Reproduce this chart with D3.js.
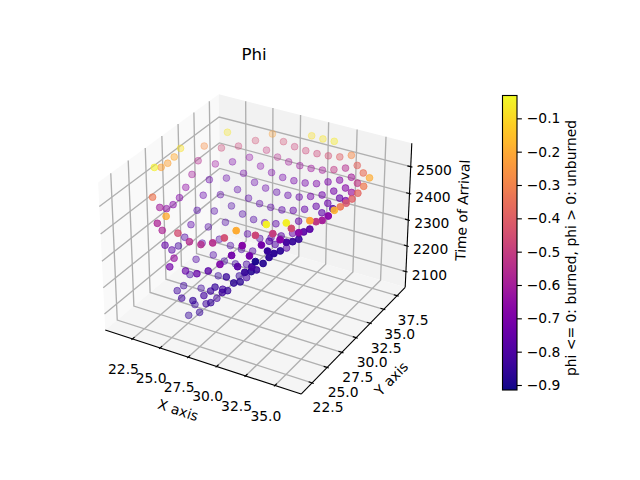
<!DOCTYPE html>
<html><head><meta charset="utf-8"><style>
html,body{margin:0;background:#fff}
svg{display:block}
text{font-family:"DejaVu Sans";fill:#000}
</style>
<script src="https://cdnjs.cloudflare.com/ajax/libs/d3/7.8.5/d3.min.js"></script>
</head><body><svg id="chart" width="640" height="480"></svg>
<script>
// Time-of-arrival samples, one entry per scatter point.
const xVals=[20.9,20.9,20.9,20.9,20.9,21.9,21.9,
21.9,21.9,21.9,21.9,21.9,21.9,21.9,
22.9,22.9,22.9,22.9,22.9,22.9,22.9,
22.9,22.9,22.9,22.9,23.9,23.9,23.9,
23.9,23.9,23.9,23.9,23.9,23.9,23.9,
23.9,24.9,24.9,24.9,24.9,24.9,24.9,
24.9,24.9,24.9,24.9,24.9,25.9,25.9,
25.9,25.9,25.9,25.9,25.9,25.9,25.9,
26.9,26.9,26.9,26.9,26.9,26.9,26.9,
26.9,26.9,27.9,27.9,27.9,27.9,27.9,
27.9,28.0,27.9,27.9,27.8,28.9,28.9,
28.9,28.9,28.9,28.9,28.9,29.0,29.9,
29.9,29.9,29.9,29.9,29.9,29.9,29.9,
29.9,30.9,30.9,30.9,30.9,30.9,30.9,
30.9,30.9,30.9,31.9,31.9,31.9,31.9,
31.9,32.9,32.9,32.9,32.9,32.9,32.9,
33.9,33.9,33.9,33.9,34.9,34.9,34.9,
34.9,34.8,35.9,35.9,35.9,35.9,35.9,
35.9,35.9,35.9,35.9,35.9,35.9,34.9,
34.4,34.5,34.0,34.4,34.0,34.0,34.5,
34.0,33.4,33.4,32.5,33.5,33.5,33.5,
33.1,33.0,32.0,32.6,32.5,31.5,31.6,
32.2,31.6,31.0,31.4,30.5,29.9,30.9,
29.5,28.9,27.3,26.3,25.3,24.3,23.5,
23.3,24.3,24.5,25.3,26.9,27.9,28.9,
30.1,30.1,29.0,29.0,28.0,29.1,27.9,
27.5,26.9,26.9,27.5,26.5,24.9,26.5,
25.9];
const yVals=[31.3,30.3,29.3,28.3,27.3,
33.3,32.3,31.3,30.3,29.3,28.3,27.3,26.3,25.3,
35.3,34.3,33.3,32.3,31.3,30.3,29.3,28.3,27.3,26.3,25.3,
35.3,34.3,33.3,32.3,31.3,30.3,29.3,28.3,27.3,26.3,25.3,
36.3,35.3,34.3,33.3,32.3,31.3,30.3,29.3,27.3,26.3,25.3,
37.3,36.3,35.3,34.3,33.3,32.3,30.3,29.3,28.3,
37.3,36.3,35.3,34.3,33.3,32.3,31.3,30.3,29.3,
37.3,36.3,35.3,34.3,33.3,32.3,31.3,30.3,29.3,28.3,
38.3,37.3,36.3,35.3,34.3,33.3,32.3,31.3,
38.3,37.3,36.3,35.3,34.3,33.3,31.3,30.3,29.3,
38.3,37.3,36.3,35.3,34.3,33.3,32.3,31.3,30.3,
37.3,36.3,35.3,34.3,33.3,
37.3,36.3,35.3,34.3,33.3,32.3,
36.3,35.3,34.3,33.3,
35.3,34.3,33.3,32.3,30.3,
34.3,33.3,32.3,31.3,30.3,29.3,28.3,
27.3,26.3,25.3,24.3,26.3,26.3,25.3,26.3,
24.3,25.3,24.3,23.3,23.3,23.3,22.3,22.3,
24.3,23.3,22.3,23.3,22.3,22.3,23.3,22.3,
24.3,23.3,22.3,22.3,22.3,22.3,22.3,22.3,
22.3,22.3,22.3,23.3,23.3,23.3,23.3,23.3,
24.3,24.3,23.3,24.3,23.3,23.3,24.3,23.3,
24.3,27.3,24.3,25.3,23.3,24.3,24.3,24.3,
26.3,24.3,25.3,24.3,23.3,25.3];
const arrival=[2527,2513,2508,2511,2529,2511,2474,
2441,2411,2391,2384,2388,2412,2469,
2538,2497,2455,2414,2374,2336,2301,
2273,2260,2265,2303,2497,2456,2413,
2369,2326,2285,2243,2201,2163,2141,
2143,2511,2466,2424,2381,2338,2295,
2250,2210,2123,2081,2061,2529,2486,
2444,2401,2360,2319,2238,2199,2163,
2511,2471,2431,2391,2351,2310,2275,
2236,2201,2503,2464,2424,2387,2349,
2310,2271,2242,2212,2187,2537,2499,
2461,2423,2387,2351,2318,2286,2536,
2499,2462,2426,2392,2361,2304,2292,
2324,2538,2502,2467,2435,2406,2377,
2352,2326,2291,2509,2480,2453,2423,
2400,2526,2497,2471,2449,2423,2407,
2518,2493,2472,2454,2520,2501,2486,
2475,2483,2532,2520,2514,2512,2516,
2522,2529,2528,2532,2547,2570,2489,
2473,2491,2442,2525,2453,2471,2565,
2500,2514,2566,2517,2434,2445,2474,
2426,2489,2438,2398,2424,2340,2356,
2401,2374,2387,2467,2421,2476,2514,
2376,2446,2400,2398,2417,2466,2431,
2383,2292,2283,2257,2288,2311,2281,
2295,2278,2217,2231,2202,2247,2230,
2210,2185,2132,2166,2127,2149,2182,
2086];
const phi=[-.08,-.2,-.22,-.22,-.05,
-.27,-.55,-.6,-.65,-.68,-.68,-.65,-.6,-.33,
-.07,-.47,-.62,-.75,-.75,-.8,-.78,-.8,-.82,-.78,-.75,
-.47,-.7,-.75,-.78,-.8,-.8,-.8,-.8,-.83,-.83,-.83,
-.45,-.65,-.72,-.78,-.8,-.8,-.8,-.8,-.83,-.85,-.85,
-.22,-.5,-.68,-.75,-.78,-.8,-.8,-.83,-.85,
-.45,-.55,-.7,-.75,-.78,-.8,-.78,-.82,-.83,
-.48,-.6,-.72,-.78,-.78,-.78,-.8,-.8,-.82,-.85,
-.08,-.47,-.62,-.72,-.76,-.78,-.78,-.78,
-.07,-.47,-.62,-.72,-.75,-.76,-.78,-.8,-.8,
-.06,-.45,-.6,-.7,-.72,-.75,-.75,-.75,-.78,
-.4,-.52,-.7,-.73,-.75,
-.28,-.55,-.68,-.72,-.74,-.77,
-.38,-.6,-.67,-.75,
-.35,-.52,-.62,-.7,-.8,
-.2,-.32,-.38,-.4,-.42,-.33,-.18,
-.68,-.6,-.52,-.22,-.78,-.78,-.68,-.85,
-.45,-.85,-.82,-.05,-.68,-.5,-.05,-.47,
-.87,-.87,-.85,-.87,-.72,-.72,-.88,-.9,
-.85,-.88,-.82,-.85,-.78,-.68,-.72,-.45,
-.2,-.7,-.55,-.55,-.55,-.45,-.2,-.58,
-.58,-.63,-.72,-.75,-.75,-.78,-.85,-.87,
-.87,-.82,-.85,-.83,-.83,-.85,-.83,-.82,
-.82,-.85,-.83,-.83,-.85,-.85];
const xTicks=[22.5,25,27.5,30,32.5,35];
const yTicks=[22.5,25,27.5,30,32.5,35,37.5];
const zTicks=[2100,2200,2300,2400,2500];
const phiTicks=[-0.9,-0.8,-0.7,-0.6,-0.5,-0.4,-0.3,-0.2,-0.1];
const xLim=[20,37.2],yLim=[20.73,39.06],zLim=[2038,2586],phiLim=[-0.915,-0.0315];

const svg=d3.select("#chart");

// Perspective camera: elevation 30, azimuth -60, box aspect 4:4:3.
const rad=Math.PI/180,elev=30*rad,azim=-60*rad,camDist=10;
const boxNorm=1.8294640721620434*25/24/Math.hypot(4,4,3);
const sx=d3.scaleLinear(xLim,[-2*boxNorm,2*boxNorm]);
const sy=d3.scaleLinear(yLim,[-2*boxNorm,2*boxNorm]);
const sz=d3.scaleLinear(zLim,[-1.5*boxNorm,1.5*boxNorm]);
const w=[Math.cos(elev)*Math.cos(azim),Math.cos(elev)*Math.sin(azim),Math.sin(elev)];
const un=Math.hypot(w[0],w[1]);
const u=[-w[1]/un,w[0]/un,0];
const v=[w[1]*u[2]-w[2]*u[1],w[2]*u[0]-w[0]*u[2],w[0]*u[1]-w[1]*u[0]];
const scale=1885,cx=258,cy=237;
function project(x,y,z){
  const p=[sx(x),sy(y),sz(z)];
  const dot=q=>q[0]*p[0]+q[1]*p[1]+q[2]*p[2];
  const depth=camDist-dot(w);
  return {x:cx+scale*dot(u)/depth,y:cy-scale*dot(v)/depth,depth};
}
const lineOf=pts=>d3.line().x(p=>p.x).y(p=>p.y)(pts.map(p=>project(...p)));
const [x0,x1]=xLim,[y0,y1]=yLim,[z0,z1]=zLim;

// Back walls and floor.
const panes=[
  {fill:"#f9f9f9",c:[[x0,y0,z0],[x0,y1,z0],[x0,y1,z1],[x0,y0,z1]]},
  {fill:"#f2f2f2",c:[[x0,y1,z0],[x1,y1,z0],[x1,y1,z1],[x0,y1,z1]]},
  {fill:"#f5f5f5",c:[[x0,y0,z0],[x1,y0,z0],[x1,y1,z0],[x0,y1,z0]]}
];
svg.append("g").selectAll("path").data(panes).join("path")
  .attr("d",d=>lineOf(d.c)+"Z").attr("fill",d=>d.fill);

// Grid lines that fold across the floor and one wall.
const grid=svg.append("g").attr("fill","none").attr("stroke","#b0b0b0").attr("stroke-width",1.35);
const gridLines=[
  ...xTicks.map(t=>[[t,y0,z0],[t,y1,z0],[t,y1,z1]]),
  ...yTicks.map(t=>[[x1,t,z0],[x0,t,z0],[x0,t,z1]]),
  ...zTicks.map(t=>[[x0,y0,t],[x0,y1,t],[x1,y1,t]])
];
grid.selectAll("path").data(gridLines).join("path").attr("d",lineOf);

// Axis edges and tick marks.
const axes=svg.append("g").attr("fill","none").attr("stroke","#000").attr("stroke-width",1.11);
const edges=[[[x0,y0,z0],[x1,y0,z0]],[[x1,y0,z0],[x1,y1,z0]],[[x1,y1,z0],[x1,y1,z1]]];
const dY=(y1-y0)/12,dX=(x1-x0)/12;
const tickMarks=[
  ...xTicks.map(t=>[[t,y0+.2*dY,z0],[t,y0-.1*dY,z0]]),
  ...yTicks.map(t=>[[x1-.2*dX,t,z0],[x1+.1*dX,t,z0]]),
  ...zTicks.map(t=>[[x1-.2*dX,y1,t],[x1+.1*dX,y1,t]])
];
axes.selectAll("path").data([...edges,...tickMarks]).join("path").attr("d",lineOf);

// Tick labels, offset from each axis on screen.
const fmt1=d3.format(".1f");
function tickLabels(ticks,at,dx,dy,f){
  svg.append("g").attr("font-size","13.89px").attr("text-anchor","middle")
    .selectAll("text").data(ticks).join("text")
    .attr("x",t=>at(t).x+dx).attr("y",t=>at(t).y+dy).attr("dy","0.36em")
    .text(f);
}
tickLabels(xTicks,t=>project(t,y0,z0),-9,30,fmt1);
tickLabels(yTicks,t=>project(x1,t,z0),16,24.5,fmt1);
tickLabels(zTicks,t=>project(x1,y1,t),23.5,3,d3.format("d"));

// Axis titles follow the on-screen slant of their axes.
function axisTitle(text,a,b,px,py){
  const A=project(...a),B=project(...b);
  const ang=Math.atan2(B.y-A.y,B.x-A.x)/rad;
  const m={x:(A.x+B.x)/2+px,y:(A.y+B.y)/2+py};
  svg.append("text").attr("font-size","13.89px").attr("text-anchor","middle").attr("dy","0.36em")
    .attr("transform",`translate(${m.x},${m.y}) rotate(${ang})`).text(text);
}
axisTitle("X axis",[x0,y0,z0],[x1,y0,z0],-25,48);
axisTitle("Y axis",[x1,y0,z0],[x1,y1,z0],38,38);
axisTitle("Time of Arrival",[x1,y1,z0],[x1,y1,z1],54,-5);

svg.append("text").attr("x",254).attr("y",54).attr("dy","0.36em").attr("text-anchor","middle")
  .attr("font-size","16.67px").text("Phi");

// Scatter, painted far to near; nearer points stay more opaque.
const color=d3.scaleSequential(d3.interpolatePlasma).domain(phiLim);
const points=xVals.map((x,i)=>{
  const p=project(x,yVals[i],arrival[i]);
  return {...p,phi:phi[i]};
});
const depthRange=d3.extent(points,d=>d.depth);
const fade=d3.scaleLinear([depthRange[0]+0.12,depthRange[1]],[1,0.32]).clamp(true);
points.sort((a,b)=>b.depth-a.depth);
svg.append("g").selectAll("circle").data(points).join("circle")
  .attr("cx",d=>d.x).attr("cy",d=>d.y).attr("r",3.4)
  .attr("fill",d=>color(d.phi)).attr("stroke",d=>color(d.phi))
  .attr("stroke-width",1)
  .attr("fill-opacity",d=>fade(d.depth)).attr("stroke-opacity",d=>fade(d.depth));

// Colour bar.
const barX=502.5,barW=14.5;
const barScale=d3.scaleLinear(phiLim,[390,95.5]);
const grad=svg.append("defs").append("linearGradient").attr("id","plasmaBar")
  .attr("x1",0).attr("x2",0).attr("y1",1).attr("y2",0);
d3.range(0,1.0001,0.02).forEach(t=>grad.append("stop").attr("offset",t).attr("stop-color",d3.interpolatePlasma(t)));
svg.append("rect").attr("x",barX).attr("y",95.5).attr("width",barW).attr("height",294.5)
  .attr("fill","url(#plasmaBar)").attr("stroke","#000").attr("stroke-width",1.11);
const barAxis=d3.axisRight(barScale).tickValues(phiTicks).tickSize(4.86).tickPadding(4.86)
  .tickFormat(t=>fmt1(t).replace("-","\u2212"));
const barG=svg.append("g").attr("transform",`translate(${barX+barW},0)`).call(barAxis);
barG.select(".domain").remove();
barG.selectAll("line").attr("stroke-width",1.11);
barG.selectAll("text").attr("font-family","DejaVu Sans").attr("font-size","13.89px");
svg.append("text").attr("transform","translate(571,248) rotate(-90)").attr("text-anchor","middle")
  .attr("dy","0.36em").attr("font-size","13.89px").text("phi <= 0: burned, phi > 0: unburned");
</script></body></html>
